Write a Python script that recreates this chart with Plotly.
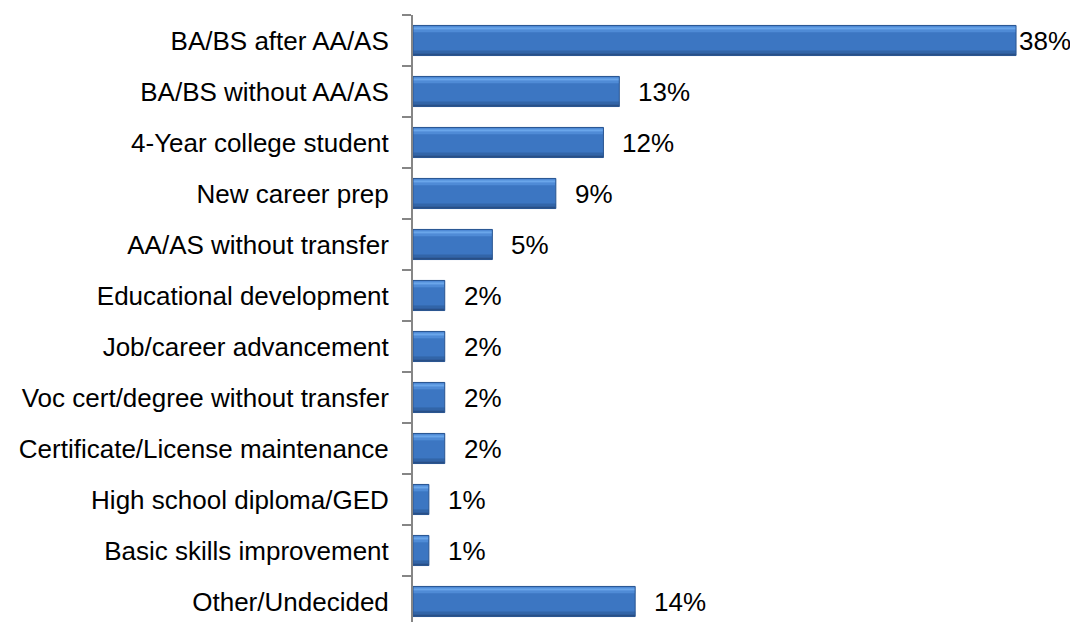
import plotly.graph_objects as go

categories = [
    "BA/BS after AA/AS",
    "BA/BS without AA/AS",
    "4-Year college student",
    "New career prep",
    "AA/AS without transfer",
    "Educational development",
    "Job/career advancement",
    "Voc cert/degree without transfer",
    "Certificate/License maintenance",
    "High school diploma/GED",
    "Basic skills improvement",
    "Other/Undecided",
]
values = [38, 13, 12, 9, 5, 2, 2, 2, 2, 1, 1, 14]
labels = [f"{v}%" for v in values]

BAR_W = 0.59
# bevel layers: (offset from bar top, thickness, color)
layers = [
    (0.0, BAR_W, "#3c76c2"),
    (0.0, 0.035, "#4f8ad6"),
    (0.035, 0.05, "#6aa6ea"),
    (0.085, 0.05, "#4f8bd6"),
    (BAR_W - 0.10, 0.06, "#3265a8"),
    (BAR_W - 0.04, 0.04, "#284f86"),
]

fig = go.Figure()
for off, thick, col in layers:
    fig.add_trace(go.Bar(
        y=categories, x=values, orientation="h",
        width=thick, offset=-BAR_W / 2 + off,
        marker=dict(color=col, line=dict(width=0)),
        hoverinfo="skip", showlegend=False,
    ))
# outline
fig.add_trace(go.Bar(
    y=categories, x=values, orientation="h",
    width=BAR_W, offset=-BAR_W / 2,
    marker=dict(color="rgba(0,0,0,0)", line=dict(width=1, color="#2a5590")),
    hoverinfo="skip", showlegend=False,
))

vmax = max(values)
for c, v, t in zip(categories, values, labels):
    fig.add_annotation(
        x=v, y=c, text=t, showarrow=False,
        xanchor="left", yanchor="middle",
        xshift=1 if v == vmax else 17,
        font=dict(family="Liberation Sans, Arial, sans-serif", size=26, color="#000000"),
    )

fig.update_layout(
    width=1070, height=622,
    margin=dict(l=413, r=0, t=15, b=0),
    barmode="overlay",
    paper_bgcolor="white", plot_bgcolor="white",
    font=dict(family="Liberation Sans, Arial, sans-serif", size=26, color="#000000"),
    xaxis=dict(range=[0, 41.4], visible=False, showgrid=False, zeroline=False),
    yaxis=dict(
        type="category", categoryorder="array", categoryarray=categories,
        range=[11.402, -0.5],
        showline=True, linecolor="#868686", linewidth=2,
        ticks="outside", tickson="boundaries", ticklen=9, tickcolor="#868686", tickwidth=2,
        showgrid=False, zeroline=False,
        ticklabelstandoff=17,
    ),
)

fig.write_html(
    "out.html",
    config={"displayModeBar": False},
    post_script="document.body.style.margin='0';document.body.style.overflow='hidden';",
)
